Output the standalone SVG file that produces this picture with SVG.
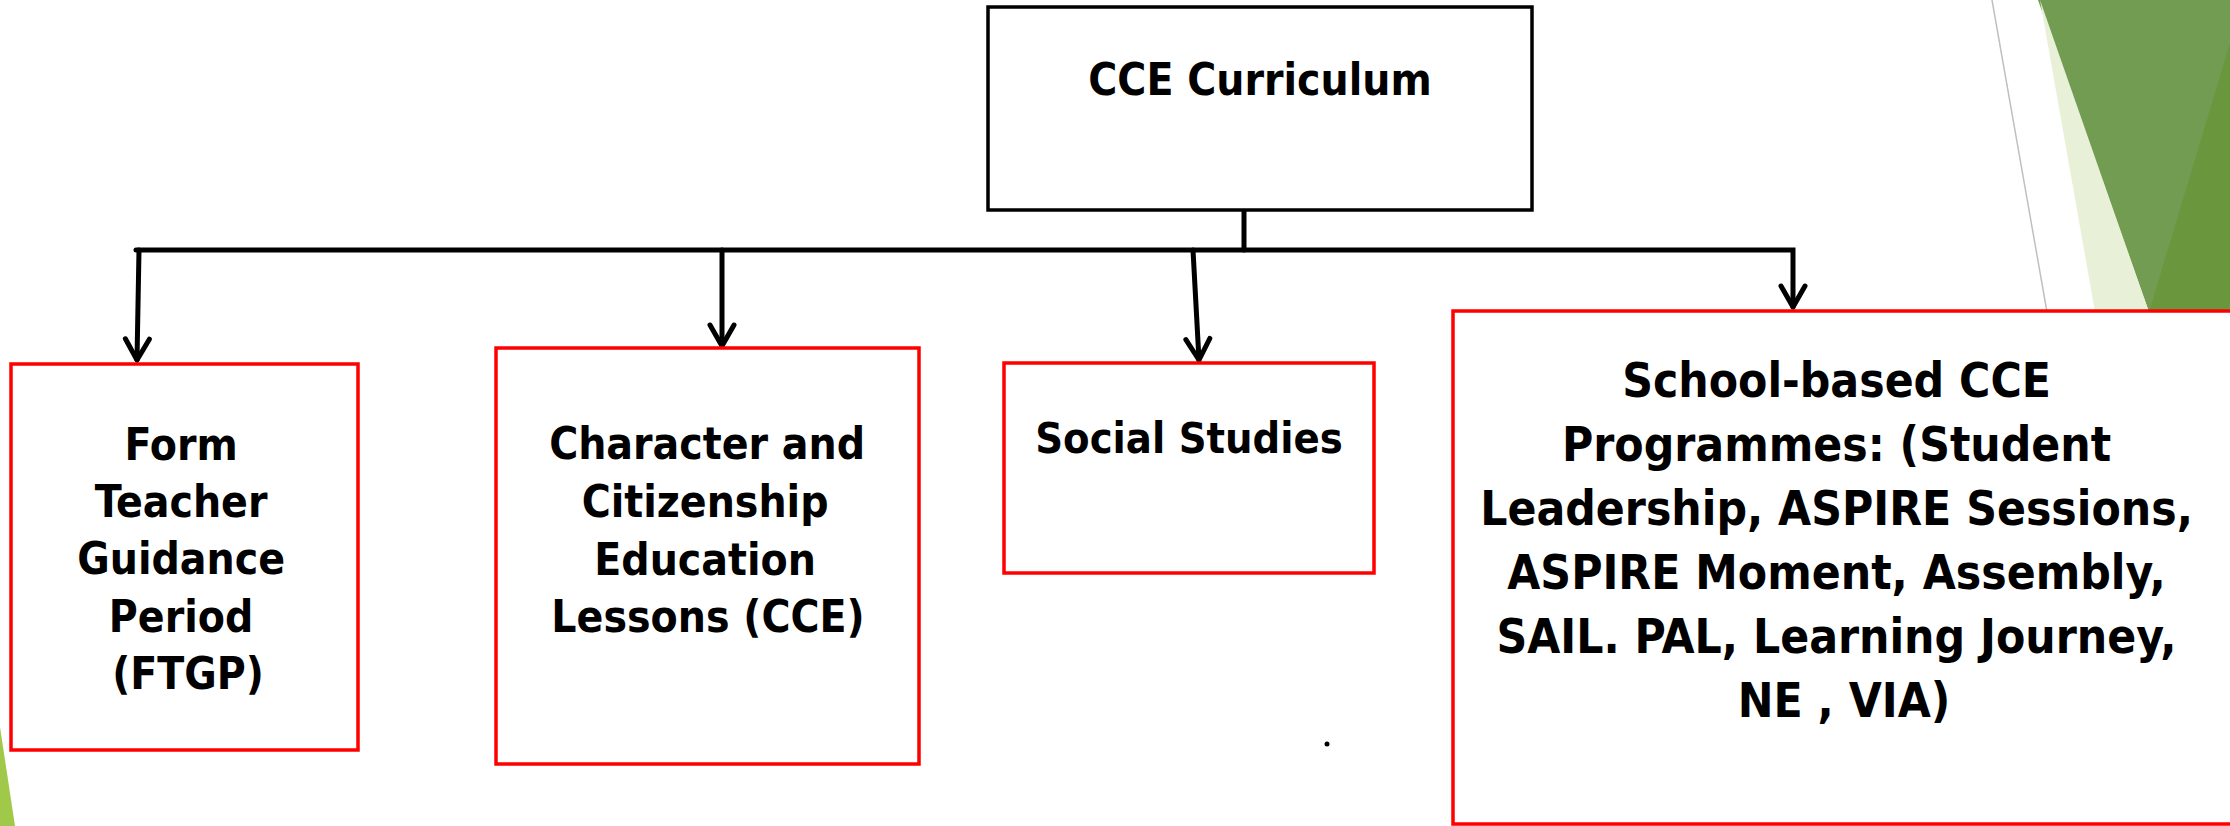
<svg xmlns="http://www.w3.org/2000/svg" width="2230" height="826" viewBox="0 0 2230 826">
  <defs>
    <style>
      .box { fill: #ffffff; stroke: #ff0000; stroke-width: 3.5; }
      .topbox { fill: #ffffff; stroke: #000000; stroke-width: 3.5; }
      .lbl { font-family: "DejaVu Sans Condensed", "DejaVu Sans", sans-serif; font-stretch: condensed; font-weight: bold; fill: #000000; text-anchor: middle; }
      .conn { fill: none; stroke: #000000; stroke-width: 5; stroke-linecap: round; stroke-linejoin: miter; }
    </style>
    <marker id="chev" markerUnits="userSpaceOnUse" viewBox="-28 -16 32 32" markerWidth="32" markerHeight="32" refX="0" refY="0" orient="auto">
      <path d="M-21,-12 L0,0 L-21,12" fill="none" stroke="#000000" stroke-width="5" stroke-linecap="round" stroke-linejoin="round"/>
    </marker>
  </defs>

  <rect width="2230" height="826" fill="#ffffff"/>

  <!-- decorations -->
  <g id="decor">
    <line x1="1992" y1="0" x2="2047" y2="312" stroke="#c0c0c0" stroke-width="1.5"/>
    <polygon points="2038,0 2230,0 2230,312 2149,312" fill="#729c52"/>
    <polygon points="2230,43 2230,312 2149,312" fill="#6a973e"/>
    <polygon points="2040,0 2149,312 2095,312" fill="#e8f1d8"/>
    <polygon points="0,727 15,826 0,826" fill="#a0c94a"/>
    <circle cx="1327" cy="744" r="2.5" fill="#000000"/>
  </g>

  <g id="connectors">
    <path class="conn" d="M1244,210 V250"/>
    <path class="conn" d="M136,250 H1793 V307" marker-end="url(#chev)"/>
    <path class="conn" d="M139,250 L137,360" marker-end="url(#chev)"/>
    <path class="conn" d="M722,250 V346" marker-end="url(#chev)"/>
    <path class="conn" d="M1193,250 L1199,360" marker-end="url(#chev)"/>
  </g>

  <g id="node-cce-curriculum">
    <rect class="topbox" x="988" y="7" width="544" height="203"/>
    <text class="lbl" x="1260" y="95" font-size="44">CCE Curriculum</text>
  </g>

  <g id="node-ftgp">
    <rect class="box" x="11" y="364" width="347" height="386"/>
    <text class="lbl" x="188" font-size="44">
      <tspan x="188" y="460">Form</tspan>
      <tspan x="188" y="517">Teacher</tspan>
      <tspan x="188" y="574">Guidance</tspan>
      <tspan x="188" y="632">Period</tspan>
      <tspan x="188" y="689">(FTGP)</tspan>
    </text>
  </g>

  <g id="node-cce-lessons">
    <rect class="box" x="496" y="348" width="423" height="416"/>
    <text class="lbl" x="711" font-size="44">
      <tspan x="714" y="459">Character and</tspan>
      <tspan x="712" y="517">Citizenship</tspan>
      <tspan x="712" y="575">Education</tspan>
      <tspan x="708" y="632">Lessons (CCE)</tspan>
    </text>
  </g>

  <g id="node-social-studies">
    <rect class="box" x="1004" y="363" width="370" height="210"/>
    <text class="lbl" x="1189" y="453" font-size="43">Social Studies</text>
  </g>

  <g id="node-school-based">
    <rect class="box" x="1453" y="311" width="800" height="513"/>
    <text class="lbl" x="1844" font-size="47.5">
      <tspan x="1844" y="397">School-based CCE</tspan>
      <tspan x="1844" y="461">Programmes: (Student</tspan>
      <tspan x="1844" y="525">Leadership, ASPIRE Sessions,</tspan>
      <tspan x="1844" y="589">ASPIRE Moment, Assembly,</tspan>
      <tspan x="1844" y="653">SAIL. PAL, Learning Journey,</tspan>
      <tspan x="1844" y="717">NE , VIA)</tspan>
    </text>
  </g>
</svg>
